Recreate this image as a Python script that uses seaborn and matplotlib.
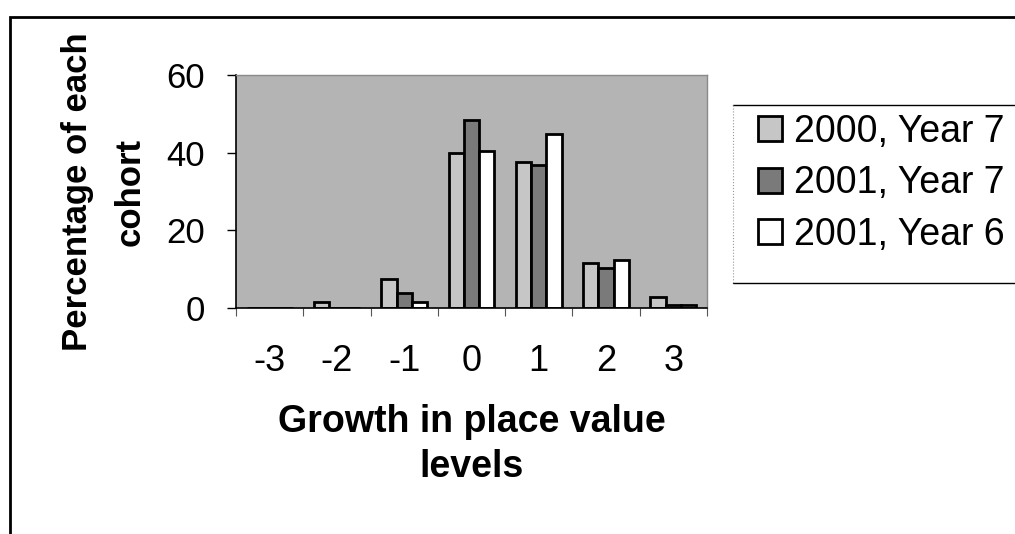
import pandas as pd
import seaborn as sns
import matplotlib.pyplot as plt
from matplotlib.patches import Patch, Rectangle
from matplotlib.lines import Line2D

# data
levels = ["-3", "-2", "-1", "0", "1", "2", "3"]
y2000_yr7 = [0, 1.5, 7.4, 39.8, 37.6, 11.5, 2.9]
y2001_yr7 = [0, 0, 3.8, 48.4, 36.8, 10.2, 0.9]
y2001_yr6 = [0, 0, 1.6, 40.5, 44.7, 12.4, 0.7]
series = ["2000, Year 7", "2001, Year 7", "2001, Year 6"]
colors = ["#c6c6c6", "#7a7a7a", "#ffffff"]

df = pd.DataFrame({
    "level": levels * 3,
    "pct": y2000_yr7 + y2001_yr7 + y2001_yr6,
    "cohort": [s for s in series for _ in levels],
})

sns.set_style("white")
plt.rcParams["font.family"] = ["Liberation Sans", "DejaVu Sans"]
plt.rcParams["text.color"] = "black"
plt.rcParams["axes.labelcolor"] = "black"
plt.rcParams["xtick.color"] = "black"
plt.rcParams["ytick.color"] = "black"

fig = plt.figure(figsize=(10.15, 5.34), dpi=100)
ax = fig.add_axes([236 / 1015, 1 - 308 / 534, 471 / 1015, 233 / 534])
ax.set_facecolor("#b4b4b4")

sns.barplot(data=df, x="level", y="pct", hue="cohort", order=levels,
            hue_order=series, palette=colors, saturation=1, width=0.68,
            edgecolor="black", linewidth=2, legend=False, ax=ax)

ax.set_ylim(0, 60)
ax.set_xlim(-0.5, 6.5)
ax.set_yticks([0, 20, 40, 60])
ax.tick_params(axis="y", labelsize=25, length=6.5, width=1, pad=16, left=True)
ax.tick_params(axis="x", which="major", labelsize=26, length=0, pad=26)
ax.set_xticks([i - 0.5 for i in range(8)], minor=True)
ax.tick_params(axis="x", which="minor", length=6, width=0.8, color="#555555", bottom=True)

for side in ["left", "bottom"]:
    ax.spines[side].set_color("black")
    ax.spines[side].set_linewidth(1.2)
for side in ["top", "right"]:
    ax.spines[side].set_color("#8a8a8a")
    ax.spines[side].set_linewidth(1)

ax.set_ylabel("Percentage of each\ncohort", fontsize=25, fontweight="bold", linespacing=1.75)
ax.yaxis.set_label_coords(-0.19, 0.5)
ax.set_xlabel("Growth in place value\nlevels", fontsize=27, fontweight="bold", linespacing=1.35)
ax.xaxis.set_label_coords(0.5, -0.41)
ax.xaxis.label.set_va("top")

handles = [Patch(facecolor=c, edgecolor="black", linewidth=2) for c in colors]
fig.legend(handles, series, loc="upper left", bbox_to_anchor=(758 / 1015, 1 - 114 / 534),
           frameon=False, fontsize=27, borderpad=0, handlelength=0.65, handleheight=0.65,
           handletextpad=0.3, labelspacing=0.41, borderaxespad=0)

# legend box lines (box runs off the right edge)
fig.add_artist(Line2D([733 / 1015, 1.0], [1 - 105 / 534] * 2, transform=fig.transFigure, color="black", lw=1))
fig.add_artist(Line2D([733 / 1015, 1.0], [1 - 283 / 534] * 2, transform=fig.transFigure, color="black", lw=1))
fig.add_artist(Line2D([733 / 1015] * 2, [1 - 105 / 534, 1 - 283 / 534], transform=fig.transFigure,
                      color="#999999", lw=0.8, ls=":"))

# outer chart border
fig.add_artist(Rectangle((10 / 1015, -0.1), 1.2, 1 - 17 / 534 + 0.1, transform=fig.transFigure,
                         fill=False, edgecolor="black", linewidth=2))

fig.savefig("out.png", dpi=100)
